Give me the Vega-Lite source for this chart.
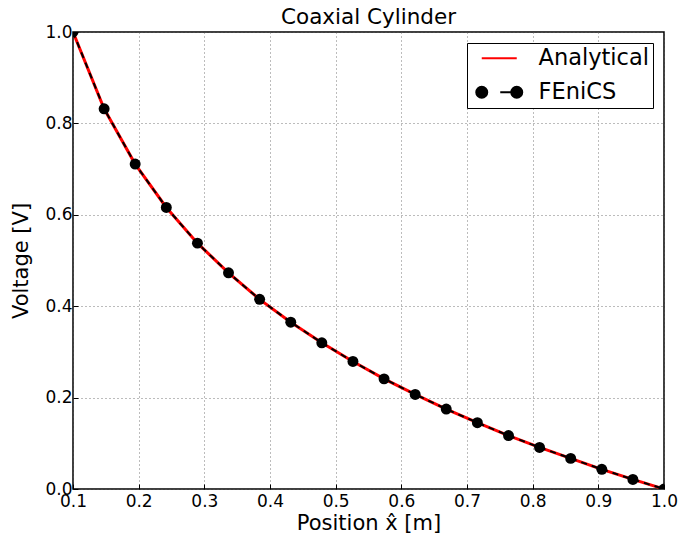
{
  "$schema": "https://vega.github.io/schema/vega-lite/v6.json",
  "autosize": {"type": "none"},
  "padding": {"left": 73, "top": 32, "right": 17, "bottom": 51},
  "width": 591,
  "height": 457,
  "background": "white",
  "title": {"text": "Coaxial Cylinder", "fontSize": 21.5, "fontWeight": "normal", "font": "DejaVu Sans", "color": "black", "offset": -5, "anchor": "middle"},
  "config": {
    "font": "DejaVu Sans",
    "view": {"stroke": "black", "strokeWidth": 1.5},
    "axis": {
      "labelFont": "DejaVu Sans", "labelFontSize": 17, "labelColor": "black",
      "titleFont": "DejaVu Sans", "titleFontSize": 21, "titleFontWeight": "normal", "titleColor": "black",
      "domain": false, "ticks": true, "tickSize": -5, "tickColor": "black", "tickWidth": 1,
      "grid": true, "gridColor": "#555", "gridDash": [1, 3], "gridWidth": 0.8,
      "labelOverlap": false, "labelFlush": false
    }
  },
  "datasets": {
    "analytical": [
      {"x": 0.1000, "v": 1.000, "series": "Analytical"},
      {"x": 0.1474, "v": 0.832, "series": "Analytical"},
      {"x": 0.1947, "v": 0.711, "series": "Analytical"},
      {"x": 0.2421, "v": 0.616, "series": "Analytical"},
      {"x": 0.2895, "v": 0.538, "series": "Analytical"},
      {"x": 0.3368, "v": 0.473, "series": "Analytical"},
      {"x": 0.3842, "v": 0.415, "series": "Analytical"},
      {"x": 0.4316, "v": 0.365, "series": "Analytical"},
      {"x": 0.4789, "v": 0.320, "series": "Analytical"},
      {"x": 0.5263, "v": 0.279, "series": "Analytical"},
      {"x": 0.5737, "v": 0.241, "series": "Analytical"},
      {"x": 0.6211, "v": 0.207, "series": "Analytical"},
      {"x": 0.6684, "v": 0.175, "series": "Analytical"},
      {"x": 0.7158, "v": 0.145, "series": "Analytical"},
      {"x": 0.7632, "v": 0.117, "series": "Analytical"},
      {"x": 0.8105, "v": 0.091, "series": "Analytical"},
      {"x": 0.8579, "v": 0.067, "series": "Analytical"},
      {"x": 0.9053, "v": 0.043, "series": "Analytical"},
      {"x": 0.9526, "v": 0.021, "series": "Analytical"},
      {"x": 1.0000, "v": 0.000, "series": "Analytical"}
    ],
    "fenics": [
      {"x": 0.1000, "v": 1.000, "series": "FEniCS"},
      {"x": 0.1474, "v": 0.832, "series": "FEniCS"},
      {"x": 0.1947, "v": 0.711, "series": "FEniCS"},
      {"x": 0.2421, "v": 0.616, "series": "FEniCS"},
      {"x": 0.2895, "v": 0.538, "series": "FEniCS"},
      {"x": 0.3368, "v": 0.473, "series": "FEniCS"},
      {"x": 0.3842, "v": 0.415, "series": "FEniCS"},
      {"x": 0.4316, "v": 0.365, "series": "FEniCS"},
      {"x": 0.4789, "v": 0.320, "series": "FEniCS"},
      {"x": 0.5263, "v": 0.279, "series": "FEniCS"},
      {"x": 0.5737, "v": 0.241, "series": "FEniCS"},
      {"x": 0.6211, "v": 0.207, "series": "FEniCS"},
      {"x": 0.6684, "v": 0.175, "series": "FEniCS"},
      {"x": 0.7158, "v": 0.145, "series": "FEniCS"},
      {"x": 0.7632, "v": 0.117, "series": "FEniCS"},
      {"x": 0.8105, "v": 0.091, "series": "FEniCS"},
      {"x": 0.8579, "v": 0.067, "series": "FEniCS"},
      {"x": 0.9053, "v": 0.043, "series": "FEniCS"},
      {"x": 0.9526, "v": 0.021, "series": "FEniCS"},
      {"x": 1.0000, "v": 0.000, "series": "FEniCS"}
    ]
  },
  "encoding": {
    "x": {"field": "x", "type": "quantitative", "title": "Position x̂ [m]",
          "scale": {"domain": [0.1, 1.0], "nice": false, "zero": false},
          "axis": {"values": [0.1, 0.2, 0.3, 0.4, 0.5, 0.6, 0.7, 0.8, 0.9, 1.0], "format": ".1f", "labelPadding": 9, "titlePadding": 3}},
    "y": {"field": "v", "type": "quantitative", "title": "Voltage [V]",
          "scale": {"domain": [0, 1], "nice": false},
          "axis": {"values": [0, 0.2, 0.4, 0.6, 0.8, 1.0], "format": ".1f", "labelPadding": 6, "titlePadding": 13}}
  },
  "layer": [
    {
      "data": {"name": "analytical"},
      "mark": {"type": "line", "strokeWidth": 3, "clip": true},
      "encoding": {
        "color": {"field": "series", "type": "nominal",
          "scale": {"domain": ["Analytical", "FEniCS"], "range": ["#ff0000", "#000000"]},
          "legend": {
            "title": null, "orient": "none", "legendX": 394, "legendY": 11,
            "strokeColor": "black", "fillColor": "white", "padding": 4,
            "labelFontSize": 22.5, "labelFont": "DejaVu Sans", "labelColor": "black",
            "symbolSize": 400, "symbolOffset": 17, "labelOffset": 28, "rowPadding": 11,
            "cornerRadius": 0,
            "encode": {
              "symbols": {"update": {
                "shape": {"signal": "datum.value === 'Analytical' ? 'M-1.75,0H1.75' : 'M1.2,0A0.55,0.55 0 1,0 2.3,0A0.55,0.55 0 1,0 1.2,0ZM-1.2,0A0.55,0.55 0 1,0 -2.3,0A0.55,0.55 0 1,0 -1.2,0ZM0.1,0H1.2'"},
                "stroke": {"signal": "datum.value === 'Analytical' ? '#ff0000' : '#000000'"},
                "fill": {"signal": "datum.value === 'Analytical' ? 'transparent' : '#000000'"},
                "strokeWidth": {"value": 2},
                "strokeDash": {"value": []},
                "opacity": {"value": 1}
              }}
            }
          }}
      }
    },
    {
      "data": {"name": "fenics"},
      "mark": {"type": "line", "strokeWidth": 2, "strokeDash": [6, 5], "clip": true},
      "encoding": {"color": {"field": "series", "type": "nominal"}}
    },
    {
      "data": {"name": "fenics"},
      "mark": {"type": "point", "filled": true, "size": 120, "opacity": 1, "clip": true},
      "encoding": {"color": {"field": "series", "type": "nominal"}}
    }
  ]
}
